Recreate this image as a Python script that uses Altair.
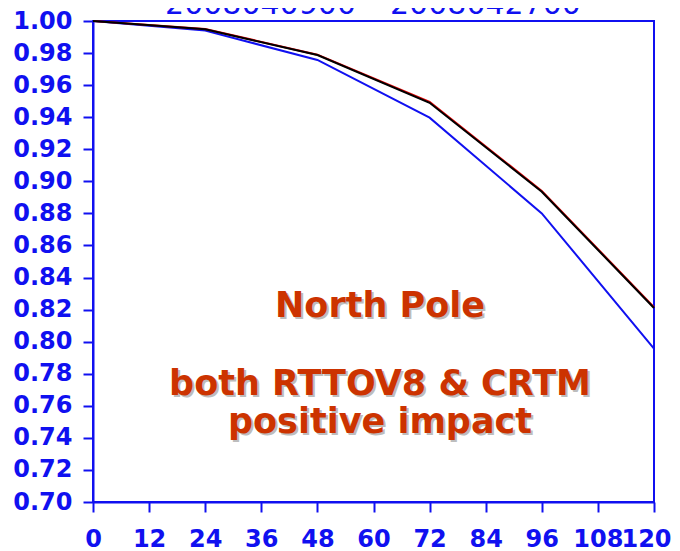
import altair as alt
import pandas as pd

hours = [0, 24, 48, 72, 96, 120]
series_names = ["CTL", "CRTM", "RTTOV8"]
ctl_vals = [1.000, 0.994, 0.9757, 0.9397, 0.880, 0.7957]
crtm_vals = [1.000, 0.9950, 0.9790, 0.9495, 0.8940, 0.8215]
rttov_vals = [1.000, 0.9948, 0.9788, 0.9490, 0.8935, 0.8210]
series_colors = ["#1010f0", "#e00000", "#000000"]

x_ticks = [0, 12, 24, 36, 48, 60, 72, 84, 96, 108, 120]
y_ticks = [round(0.70 + 0.02 * i, 2) for i in range(16)]

title_text = "2008040900 \u2013 2008042700"
note_lines = ["North Pole", "both RTTOV8 & CRTM", "positive impact"]

rows = []
for name, vals in zip(series_names, [ctl_vals, crtm_vals, rttov_vals]):
    for h, v in zip(hours, vals):
        rows.append({"hour": h, "value": v, "series": name})
df = pd.DataFrame(rows)

BLUE = "#1010f0"
FONT = "DejaVu Sans"

x_enc = alt.X("hour:Q", scale=alt.Scale(domain=[0, 120], nice=False),
              axis=alt.Axis(values=x_ticks, title=None, grid=False, labelFlush=False,
                            labelOverlap=False, labelPadding=15,
                            labelOffset={"condition": {"test": "datum.value >= 120", "value": -8},
                                         "value": 0}))
y_enc = alt.Y("value:Q", scale=alt.Scale(domain=[0.70, 1.00], nice=False, zero=False),
              axis=alt.Axis(values=y_ticks, format=".2f", title=None, grid=False,
                            labelOverlap=False, labelFlush=False, labelPadding=11))

layers = []
for name, color in zip(series_names, series_colors):
    layers.append(
        alt.Chart(df).transform_filter(alt.datum.series == name)
        .mark_line(color=color, strokeWidth=2)
        .encode(x=x_enc, y=y_enc)
    )

title_layer = alt.Chart(pd.DataFrame({"t": [title_text]})).mark_text(
    font=FONT, fontSize=30, color=BLUE, baseline="alphabetic", align="center"
).encode(text="t:N", x=alt.value(280), y=alt.value(-7))

note_y = [296, 374, 412]
note_layers = []
for txt, yy in zip(note_lines, note_y):
    d = pd.DataFrame({"t": [txt]})
    note_layers.append(
        alt.Chart(d).mark_text(font=FONT, fontSize=35, fontWeight="bold", color="#bdbdbd",
                               baseline="alphabetic", align="center")
        .encode(text="t:N", x=alt.value(289), y=alt.value(yy + 2))
    )
    note_layers.append(
        alt.Chart(d).mark_text(font=FONT, fontSize=35, fontWeight="bold", color="#cc3300",
                               baseline="alphabetic", align="center")
        .encode(text="t:N", x=alt.value(287), y=alt.value(yy))
    )

chart = alt.layer(*layers, title_layer, *note_layers).properties(
    width=561, height=481,
    autosize=alt.AutoSizeParams(type="none"),
    padding={"left": 85, "top": 13, "right": 18, "bottom": 49},
).configure_view(
    stroke=BLUE, strokeWidth=2
).configure_axis(
    domainColor=BLUE, domainWidth=2, tickColor=BLUE, tickWidth=2, tickSize=10,
    labelColor=BLUE, labelFont=FONT, labelFontSize=24, labelFontWeight="bold"
)

chart.save("out.html", embed_options={"renderer": "svg", "actions": False})
